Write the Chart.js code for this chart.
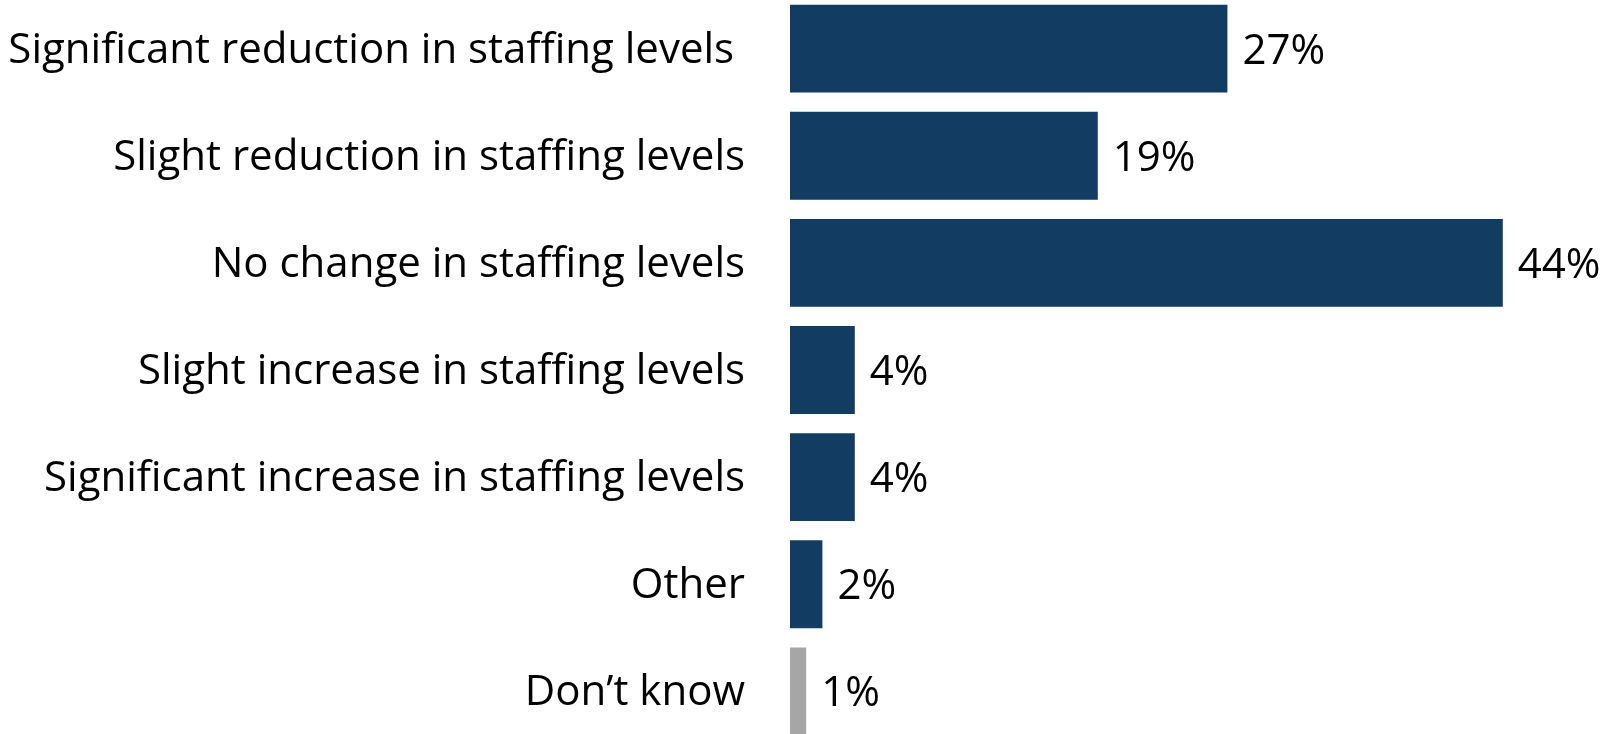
<!DOCTYPE html>
<html>
<head>
<meta charset="utf-8">
<script src="https://cdn.jsdelivr.net/npm/chart.js@4"></script>
<style>
  html, body { margin: 0; padding: 0; background: #fff; overflow: hidden; }
  #staffChart { display: block; margin-top: -5px; }
</style>
</head>
<body>
<canvas id="staffChart" width="1610" height="750"></canvas>
<script>
const categories = [
    'Significant reduction in staffing levels ',
    'Slight reduction in staffing levels',
    'No change in staffing levels',
    'Slight increase in staffing levels',
    'Significant increase in staffing levels',
    'Other',
    'Don\u2019t know'
];
const shares = [27, 19, 44, 4, 4, 2, 1];
const barColors = ['#123c61', '#123c61', '#123c61', '#123c61', '#123c61', '#123c61', '#a6a6a6'];

const FONT = { family: '"Open Sans", sans-serif', size: 42 };

// draws the "27%" labels just past the end of each bar
const valueLabels = {
    id: 'valueLabels',
    afterDatasetsDraw(chart) {
        const ctx = chart.ctx;
        const meta = chart.getDatasetMeta(0);
        ctx.save();
        ctx.font = FONT.size + 'px ' + FONT.family;
        ctx.fillStyle = '#000';
        ctx.textAlign = 'left';
        ctx.textBaseline = 'middle';
        meta.data.forEach((bar, i) => {
            ctx.fillText(shares[i] + '%', bar.x + 15, bar.y + 3);
        });
        ctx.restore();
    }
};

const ctx = document.getElementById('staffChart').getContext('2d');
const chart = new Chart(ctx, {
    type: 'bar',
    data: {
        labels: categories,
        datasets: [{
            data: shares,
            backgroundColor: barColors,
            borderWidth: 0,
            barPercentage: 0.82,
            categoryPercentage: 1
        }]
    },
    options: {
        indexAxis: 'y',
        responsive: false,
        animation: false,
        layout: { padding: { left: 0, right: 10, top: 0, bottom: 0 } },
        scales: {
            x: {
                display: false,
                min: 0,
                max: 50
            },
            y: {
                grid: { display: false, drawTicks: false },
                border: { display: false },
                ticks: {
                    color: '#000',
                    font: FONT,
                    padding: 45,
                    labelOffset: 2
                },
                afterFit: function(scale) {
                    scale.width = 790;
                    scale.paddingTop = 0;
                    scale.paddingBottom = 0;
                }
            }
        },
        plugins: {
            legend: { display: false },
            tooltip: { enabled: false }
        }
    },
    plugins: [valueLabels]
});
</script>
</body>
</html>
